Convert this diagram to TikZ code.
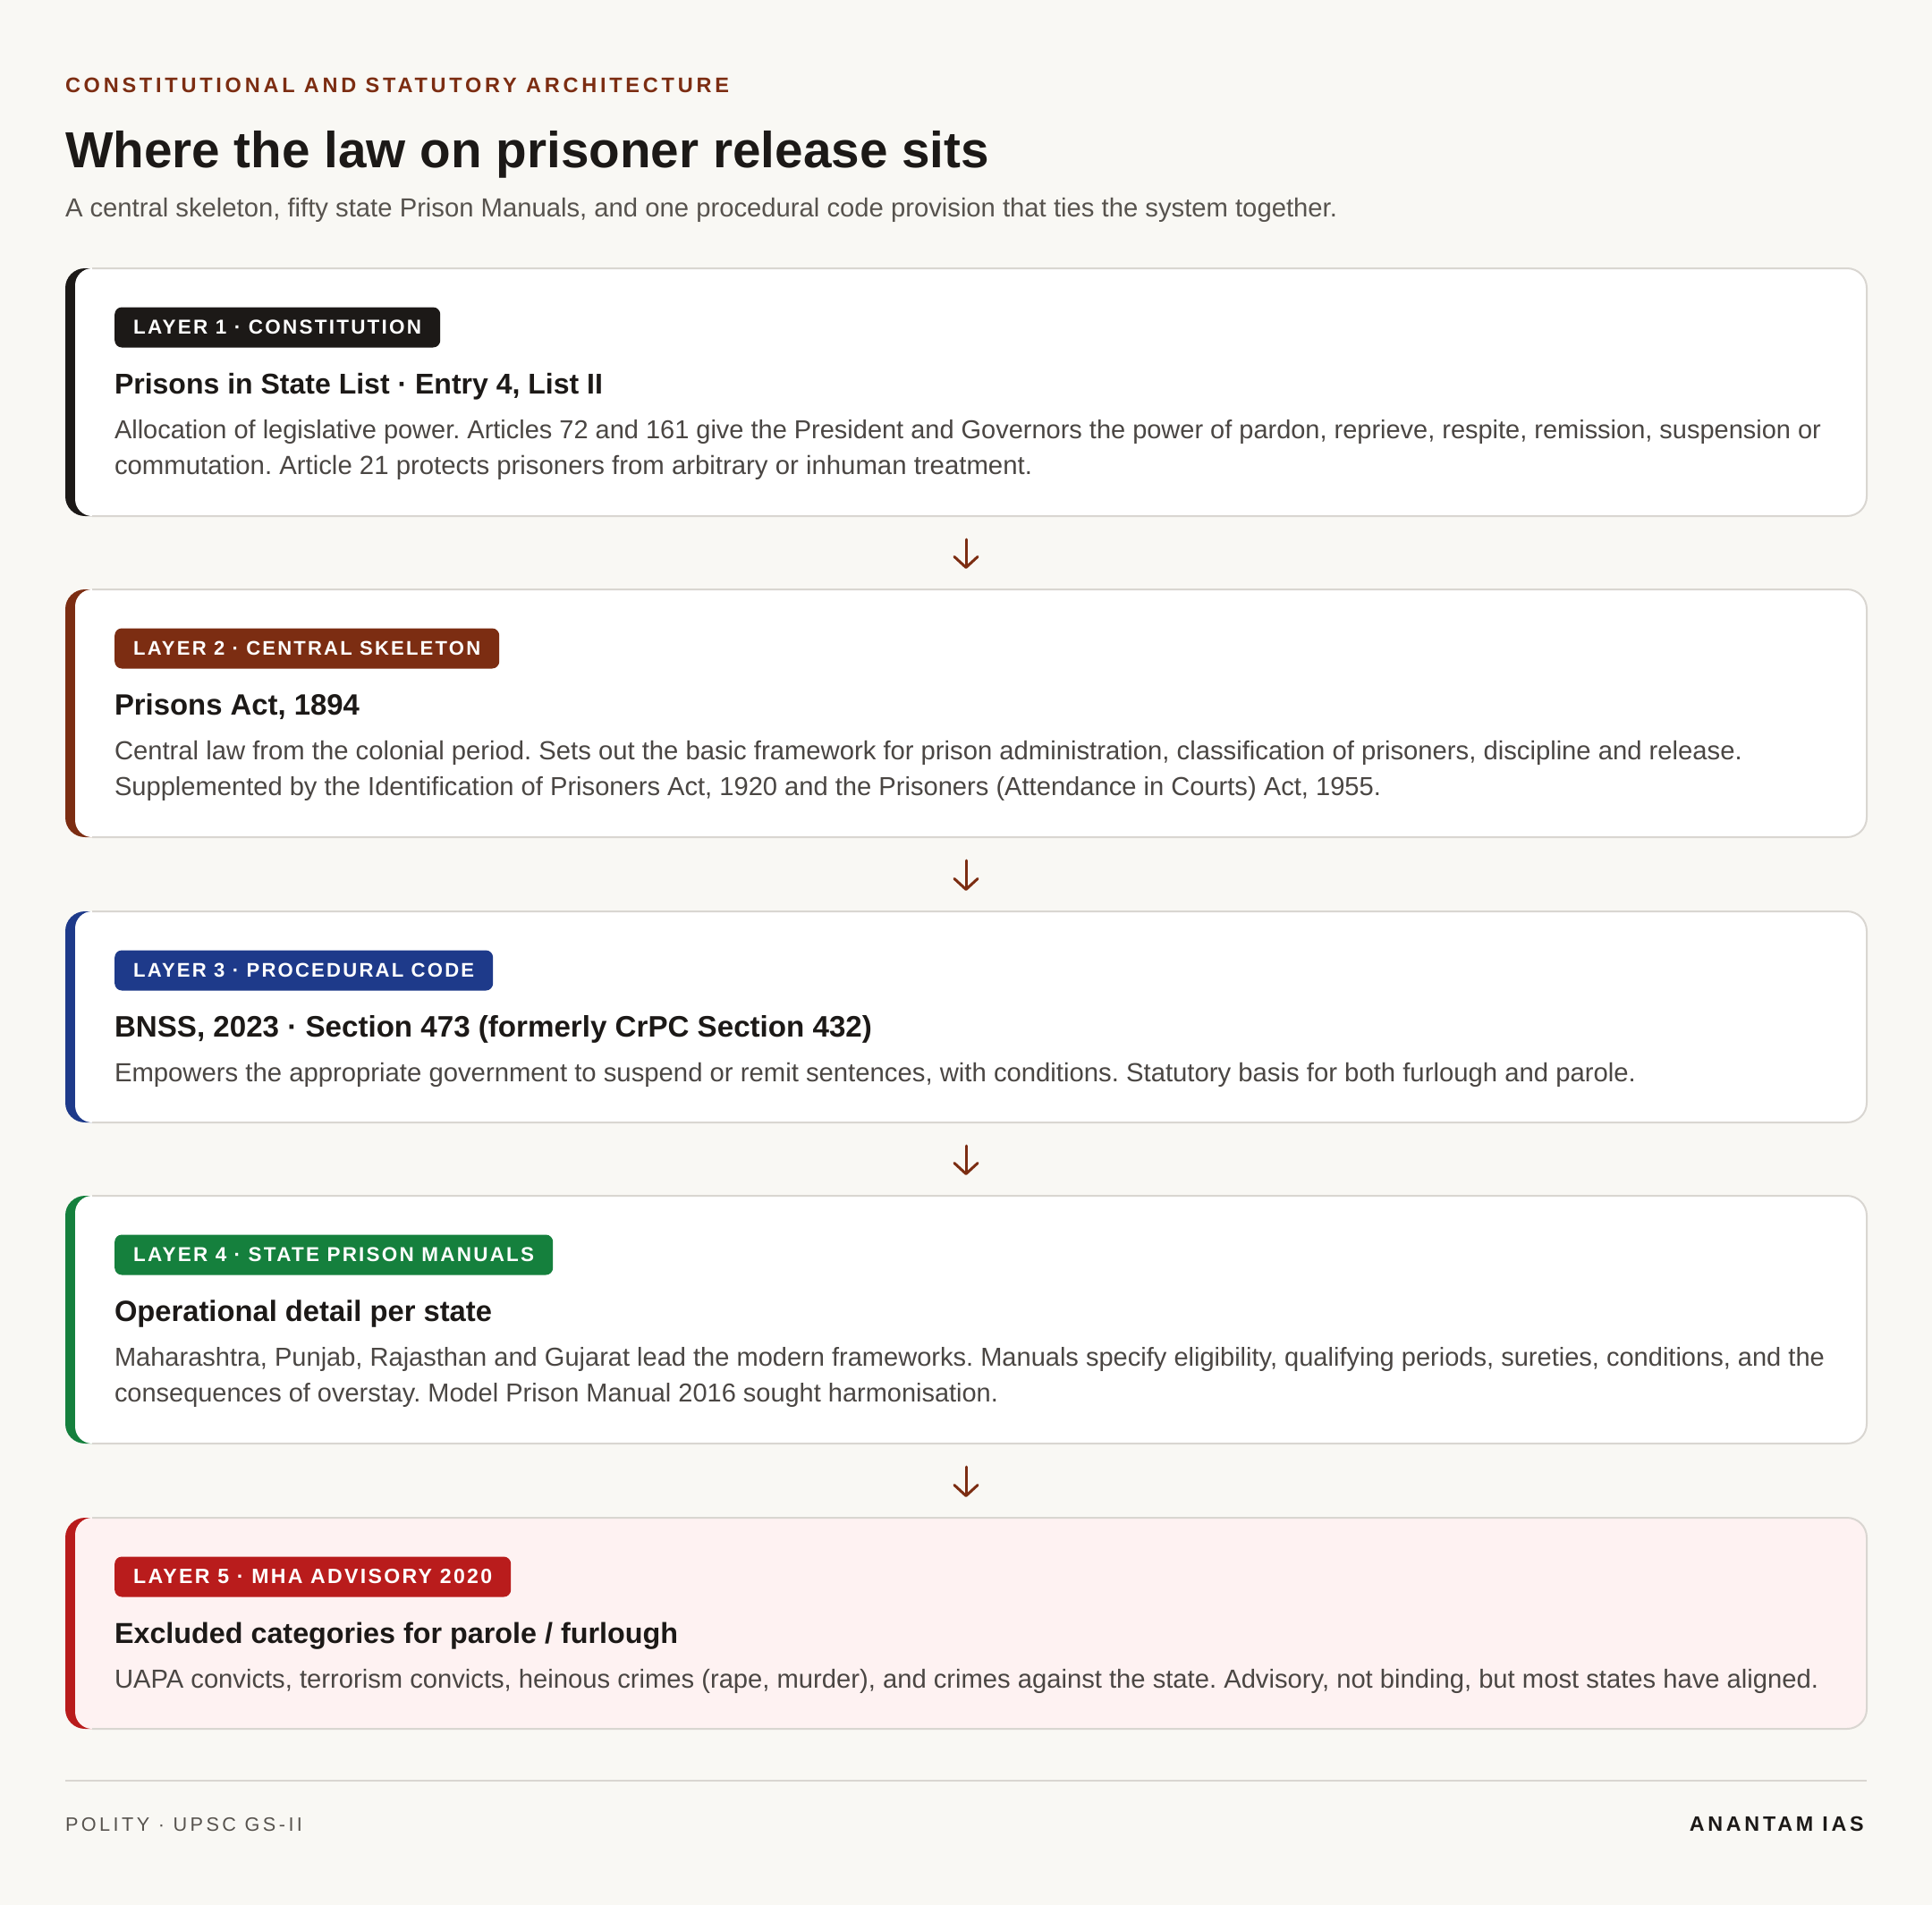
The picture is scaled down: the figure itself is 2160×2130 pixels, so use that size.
\documentclass[tikz,border=0pt]{standalone}
\usepackage{fontspec}
\usepackage{graphicx}
\setmainfont{Liberation Sans}
\newfontfamily\trackfont[LetterSpace=16]{Liberation Sans}
\newfontfamily\badgefont[LetterSpace=10]{Liberation Sans}
\usetikzlibrary{arrows.meta,calc}
\frenchspacing
\definecolor{bg}{HTML}{F9F8F4}
\definecolor{ink}{HTML}{1C1917}
\definecolor{body}{HTML}{4A4643}
\definecolor{muted}{HTML}{57534E}
\definecolor{edge}{HTML}{D9D6D1}
\definecolor{accA}{HTML}{1C1917}
\definecolor{accB}{HTML}{7C2D12}
\definecolor{accC}{HTML}{1E3A8A}
\definecolor{accD}{HTML}{15803D}
\definecolor{accE}{HTML}{B91C1C}
\definecolor{pinkfill}{HTML}{FEF2F2}
\newcommand\fitw[2]{\resizebox{#1pt}{!}{#2}}
\newcommand\bodyfont{\fontsize{26}{32}\selectfont\color{body}}
\newcommand\headfont{\fontsize{31}{37}\selectfont\bfseries\color{ink}}
\newcommand\badgetxt{\fontsize{21}{25}\selectfont\badgefont\bfseries\color{white}}
\tikzset{
  cardout/.style={rectangle, rounded corners=22pt, draw=none, inner sep=0pt, outer sep=0pt, minimum width=2014pt},
  cardin/.style={rectangle, rounded corners=19pt, draw=none, inner sep=0pt, outer sep=0pt, minimum width=2003pt},
  cardedge/.style={draw=edge, line width=2pt, rounded corners=22pt},
  txt/.style={anchor=base west, inner sep=0pt, outer sep=0pt},
  pill/.style={rectangle, rounded corners=8pt, anchor=west, inner xsep=21pt, inner ysep=0pt, minimum height=45pt, text=white},
  flow/.style={draw=accB, line width=3pt, line cap=round, -{Straight Barb[length=12pt, width=26pt, line width=3pt, round]}},
  rulestyle/.style={draw=edge, line width=2pt}
}
\newcommand\cardshape[5]{%
  \node[cardout, fill=#4, minimum height=#3pt, anchor=north west] (#1) at (73,#2) {};
  \node[cardin, fill=#5, minimum height=#3pt, anchor=north east] (#1in) at (#1.north east) {};
  \draw[cardedge] ([xshift=30pt]#1.north west) -- (#1.north east) -- (#1.south east) -- ([xshift=30pt]#1.south west);
}
\begin{document}
\begin{tikzpicture}[x=1pt,y=-1pt]
\useasboundingbox (0,0) rectangle (2160,2130);
\fill[bg] (0,0) rectangle (2160,2130);

% header
\node[txt] (kicker) at (73,104) {\fitw{742}{\fontsize{21}{25}\selectfont\trackfont\bfseries\color{accB}CONSTITUTIONAL AND STATUTORY ARCHITECTURE}};
\node[txt] (title) at (73,187) {\fitw{1033}{\fontsize{58}{66}\selectfont\bfseries\color{ink}Where the law on prisoner release sits}};
\node[txt] (subtitle) at (73,242) {\fitw{1422}{\fontsize{27}{32}\selectfont\color{muted}A central skeleton, fifty state Prison Manuals, and one procedural code provision that ties the system together.}};

% card 1
\cardshape{c1}{300}{277}{accA}{white}
\node[pill, fill=accA] (b1) at (128,366) {\fitw{322}{\badgetxt LAYER 1 · CONSTITUTION}};
\node[txt] (h1) at (128,440) {\fitw{546}{\headfont Prisons in State List · Entry 4, List II}};
\node[txt] (p1a) at (128,490) {\fitw{1908}{\bodyfont Allocation of legislative power. Articles 72 and 161 give the President and Governors the power of pardon, reprieve, respite, remission, suspension or}};
\node[txt] (p1b) at (128,530) {\fitw{1026}{\bodyfont commutation. Article 21 protects prisoners from arbitrary or inhuman treatment.}};

% card 2
\cardshape{c2}{659}{277}{accB}{white}
\node[pill, fill=accB] (b2) at (128,725) {\fitw{388}{\badgetxt LAYER 2 · CENTRAL SKELETON}};
\node[txt] (h2) at (128,799) {\fitw{274}{\headfont Prisons Act, 1894}};
\node[txt] (p2a) at (128,849) {\fitw{1820}{\bodyfont Central law from the colonial period. Sets out the basic framework for prison administration, classification of prisoners, discipline and release.}};
\node[txt] (p2b) at (128,889) {\fitw{1416}{\bodyfont Supplemented by the Identification of Prisoners Act, 1920 and the Prisoners (Attendance in Courts) Act, 1955.}};

% card 3
\cardshape{c3}{1019}{236}{accC}{white}
\node[pill, fill=accC] (b3) at (128,1085) {\fitw{381}{\badgetxt LAYER 3 · PROCEDURAL CODE}};
\node[txt] (h3) at (128,1159) {\fitw{847}{\headfont BNSS, 2023 · Section 473 (formerly CrPC Section 432)}};
\node[txt] (p3a) at (128,1209) {\fitw{1701}{\bodyfont Empowers the appropriate government to suspend or remit sentences, with conditions. Statutory basis for both furlough and parole.}};

% card 4
\cardshape{c4}{1337}{277}{accD}{white}
\node[pill, fill=accD] (b4) at (128,1403) {\fitw{448}{\badgetxt LAYER 4 · STATE PRISON MANUALS}};
\node[txt] (h4) at (128,1477) {\fitw{422}{\headfont Operational detail per state}};
\node[txt] (p4a) at (128,1527) {\fitw{1912}{\bodyfont Maharashtra, Punjab, Rajasthan and Gujarat lead the modern frameworks. Manuals specify eligibility, qualifying periods, sureties, conditions, and the}};
\node[txt] (p4b) at (128,1567) {\fitw{988}{\bodyfont consequences of overstay. Model Prison Manual 2016 sought harmonisation.}};

% card 5
\cardshape{c5}{1697}{236}{accE}{pinkfill}
\node[pill, fill=accE] (b5) at (128,1763) {\fitw{401}{\badgetxt LAYER 5 · MHA ADVISORY 2020}};
\node[txt] (h5) at (128,1837) {\fitw{630}{\headfont Excluded categories for parole / furlough}};
\node[txt] (p5a) at (128,1887) {\fitw{1905}{\bodyfont UAPA convicts, terrorism convicts, heinous crimes (rape, murder), and crimes against the state. Advisory, not binding, but most states have aligned.}};

% arrows
\draw[flow] ([yshift=-26pt]c1.south) -- ([yshift=23pt]c2.north);
\draw[flow] ([yshift=-26pt]c2.south) -- ([yshift=23pt]c3.north);
\draw[flow] ([yshift=-26pt]c3.south) -- ([yshift=23pt]c4.north);
\draw[flow] ([yshift=-26pt]c4.south) -- ([yshift=23pt]c5.north);

% footer
\coordinate (fl) at (73,1991);
\coordinate (fr) at (2087,1991);
\draw[rulestyle] (fl) -- (fr);
\node[txt] (foot1) at (73,2047) {\fitw{265}{\fontsize{20}{24}\selectfont\trackfont\color{muted}POLITY · UPSC GS-II}};
\node[anchor=base east, inner sep=0pt] (foot2) at (2084,2047) {\fitw{195}{\fontsize{20}{24}\selectfont\trackfont\bfseries\color{ink}ANANTAM IAS}};
\end{tikzpicture}
\end{document}
